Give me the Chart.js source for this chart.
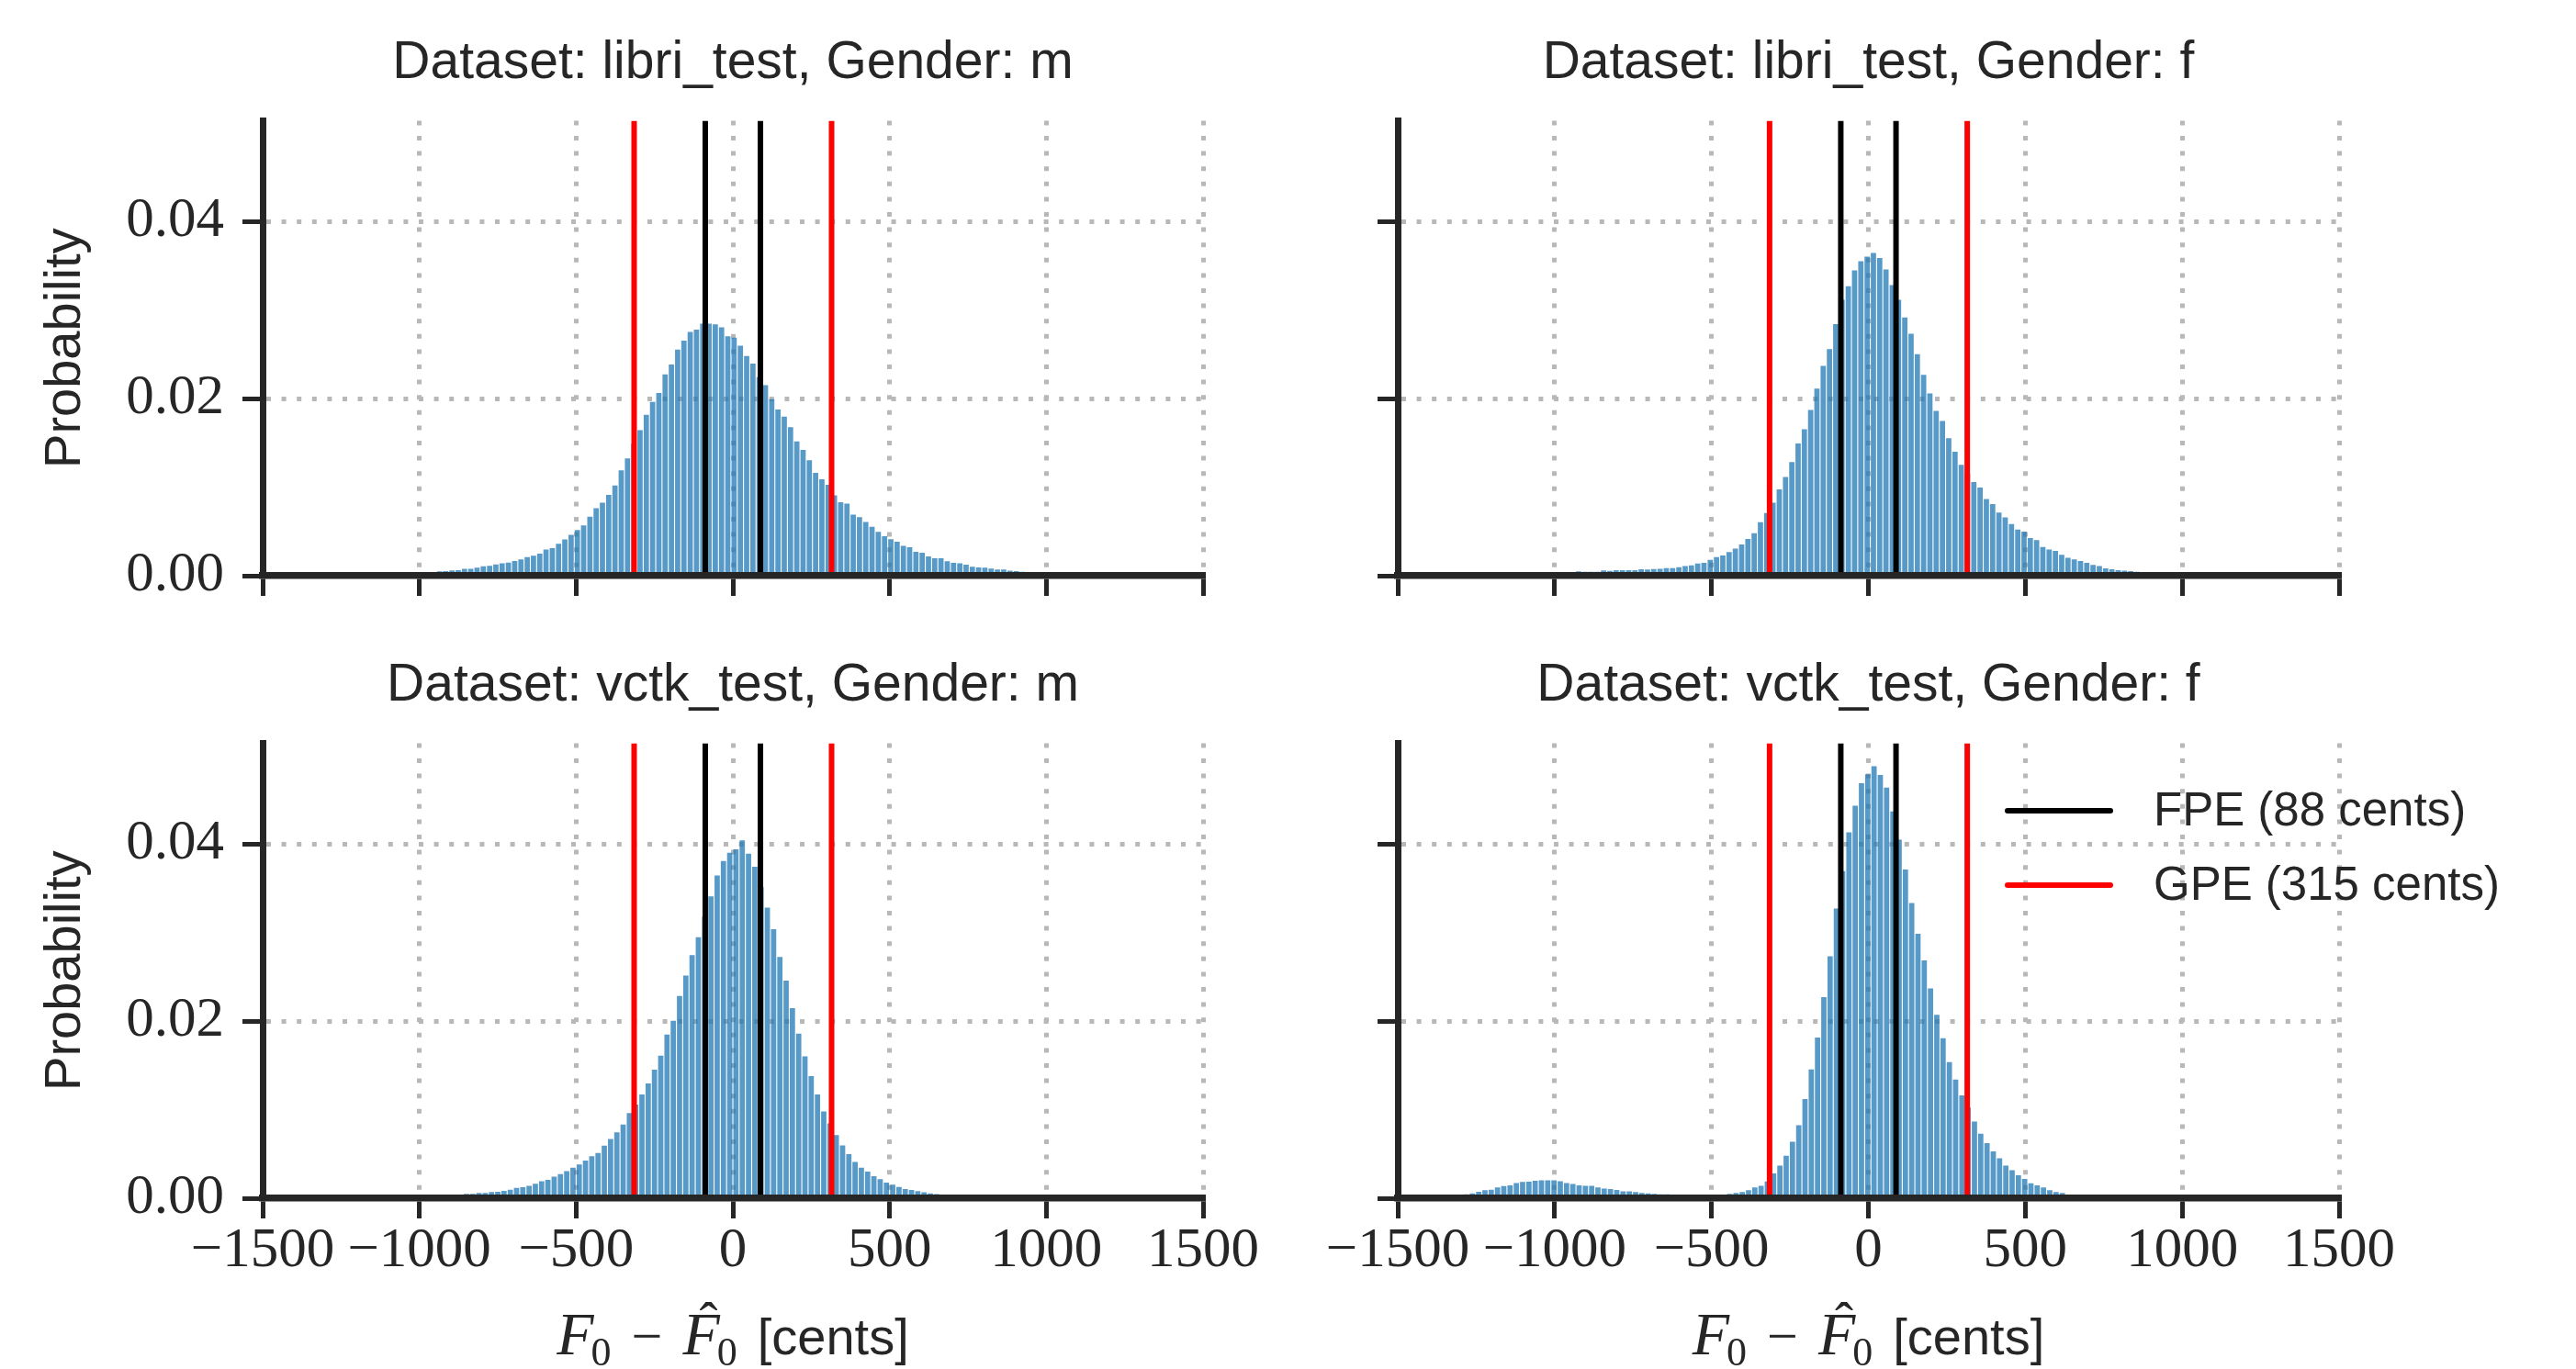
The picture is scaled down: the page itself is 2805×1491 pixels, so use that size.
<!DOCTYPE html>
<html>
<head>
<meta charset="utf-8">
<title>F0 error histograms</title>
<script src="https://cdn.jsdelivr.net/npm/chart.js@4.4.1/dist/chart.umd.min.js"></script>
<style>
    html, body { margin: 0; padding: 0; background: #ffffff; }
    body { width: 2805px; height: 1491px; position: relative; overflow: hidden; }
    canvas { position: absolute; }
</style>
</head>
<body>
<script>
// histogram bins are 20 cents wide
var BIN_WIDTH = 20;
var X_MIN = -1500, X_MAX = 1500;
var Y_MAX = 0.0514;
var xTickValues = [-1500, -1000, -500, 0, 500, 1000, 1500];
var yTickValues = [0, 0.02, 0.04];

var fpeCents = 88;
var gpeCents = 315;
var fpeLabel = 'FPE (88 cents)';
var gpeLabel = 'GPE (315 cents)';

var panelTitles = [
    'Dataset: libri_test, Gender: m',
    'Dataset: libri_test, Gender: f',
    'Dataset: vctk_test, Gender: m',
    'Dataset: vctk_test, Gender: f'
];

// centre of the first bin of each panel
var firstBinCenters = [-996, -1064, -890, -1302];

var libriM = [
    0.0001, 0.0002, 0.00037, 0.00048, 0.00052, 0.00059, 0.00063, 0.00078, 0.00078, 0.00092,
    0.00107, 0.00111, 0.00126, 0.0014, 0.00148, 0.00166, 0.00185, 0.00211, 0.00226, 0.00248,
    0.00296, 0.00312, 0.00361, 0.00409, 0.00461, 0.00517, 0.00569, 0.00666, 0.00763, 0.00825,
    0.00912, 0.0102, 0.0119, 0.01324, 0.0149, 0.01643, 0.01817, 0.01962, 0.02063, 0.02274,
    0.02385, 0.02555, 0.02656, 0.02753, 0.0278, 0.02846, 0.02846, 0.0284, 0.02805, 0.02704,
    0.0269, 0.02597, 0.02482, 0.02396, 0.02243, 0.02153, 0.01993, 0.01876, 0.01796, 0.01678,
    0.01518, 0.01421, 0.01304, 0.01161, 0.01089, 0.01026, 0.00908, 0.00829, 0.00815, 0.0069,
    0.00662, 0.00607, 0.00551, 0.00496, 0.00447, 0.00413, 0.00385, 0.00336, 0.00322, 0.0027,
    0.0026, 0.00219, 0.00198, 0.00198, 0.00163, 0.00146, 0.00139, 0.00125, 0.00101, 0.00094,
    0.0009, 0.0008, 0.00069, 0.00069, 0.00056, 0.00052, 0.00045, 0.00042, 0.00042, 0.0003
];

var libriF = [
    0.0001, 0.0001, 0.0002, 0.0002, 0.0003, 0.0004, 0.0004, 0.00048, 0.00045, 0.00045,
    0.00045, 0.00059, 0.00055, 0.00062, 0.00062, 0.00062, 0.00062, 0.00072, 0.00069, 0.00076,
    0.00079, 0.00086, 0.00086, 0.00097, 0.0011, 0.00117, 0.00138, 0.00145, 0.00179, 0.0021,
    0.00228, 0.00266, 0.00307, 0.00352, 0.00414, 0.00479, 0.00603, 0.00707, 0.00824, 0.00976,
    0.01114, 0.01283, 0.01493, 0.01655, 0.01872, 0.02114, 0.02369, 0.02558, 0.02841, 0.03117,
    0.03269, 0.03448, 0.03551, 0.03603, 0.03645, 0.03589, 0.03458, 0.03282, 0.03117, 0.02917,
    0.02734, 0.02503, 0.02269, 0.02058, 0.01862, 0.01748, 0.01552, 0.014, 0.01252, 0.01155,
    0.01059, 0.00996, 0.00865, 0.0081, 0.00714, 0.00659, 0.00583, 0.00521, 0.00497, 0.00424,
    0.00403, 0.00323, 0.00295, 0.00281, 0.00236, 0.00201, 0.00184, 0.00167, 0.00146, 0.00121,
    0.00108, 0.00083, 0.00073, 0.00062, 0.00056, 0.00052, 0.00045, 0.0002
];

var vctkM = [
    0.0002, 0.0003, 0.00048, 0.00048, 0.00059, 0.00059, 0.00069, 0.00072, 0.00083, 0.00097,
    0.00117, 0.00124, 0.00141, 0.00164, 0.00192, 0.00208, 0.00243, 0.00272, 0.00307, 0.00346,
    0.0038, 0.00426, 0.00475, 0.00512, 0.00593, 0.00669, 0.00743, 0.00833, 0.00962, 0.01059,
    0.01172, 0.01296, 0.01452, 0.0161, 0.01848, 0.02003, 0.02283, 0.02514, 0.02745, 0.02948,
    0.03179, 0.0341, 0.03645, 0.0381, 0.03903, 0.03941, 0.04041, 0.03893, 0.03745, 0.03514,
    0.03283, 0.03038, 0.02724, 0.02458, 0.02148, 0.01858, 0.01603, 0.01379, 0.01172, 0.00979,
    0.00845, 0.00714, 0.00597, 0.00497, 0.0041, 0.00346, 0.003, 0.0025, 0.00214, 0.00176,
    0.00152, 0.00126, 0.00105, 0.00093, 0.0008, 0.00068, 0.00055, 0.00046, 0.0004, 0.0003,
    0.0002, 0.0001
];

var vctkF = [
    0.0003, 0.00045, 0.00055, 0.00072, 0.0009, 0.00097, 0.00121, 0.00138, 0.00145, 0.00172,
    0.00183, 0.00186, 0.00197, 0.00203, 0.00203, 0.00203, 0.00193, 0.00172, 0.00162, 0.00145,
    0.00141, 0.00141, 0.00121, 0.0011, 0.00103, 0.00093, 0.00079, 0.00079, 0.00069, 0.00059,
    0.00055, 0.00048, 0.00045, 0.00045, 0.00041, 0.0004, 0.0003, 0.0003, 0.0002, 0.0002,
    0.0002, 0.0003, 0.00041, 0.00048, 0.00059, 0.00069, 0.0009, 0.00121, 0.00141, 0.0019,
    0.00279, 0.00369, 0.00479, 0.00638, 0.00824, 0.01121, 0.01455, 0.01814, 0.02272, 0.02734,
    0.03272, 0.03696, 0.04134, 0.04434, 0.04689, 0.04789, 0.0488, 0.04782, 0.04638, 0.04369,
    0.04051, 0.03714, 0.03334, 0.02986, 0.02686, 0.02369, 0.02072, 0.01807, 0.01538, 0.01341,
    0.01162, 0.01024, 0.00865, 0.00728, 0.00621, 0.00528, 0.00452, 0.00369, 0.00317, 0.00259,
    0.00217, 0.00169, 0.00145, 0.00121, 0.0009, 0.00069, 0.00059, 0.0004, 0.0002
];

var panelValues = [libriM, libriF, vctkM, vctkF];

var INK = '#262626';
var GRID = '#b8b8b8';
var SANS = '"Liberation Sans", Arial, Helvetica, sans-serif';
var SERIF = '"Liberation Serif", "Times New Roman", serif';

Chart.defaults.font.family = SANS;
Chart.defaults.color = INK;

// canvas boxes for the 2x2 grid
var cols = [
    { left: 0, width: 1400, axisWidth: 286, padRight: 90 },
    { left: 1400, width: 1405, axisWidth: 122, padRight: 258 }
];
var rows = [
    { top: 0, height: 680, titleTop: 35, titleBottom: 28, axisHeight: 53 },
    { top: 680, height: 811, titleTop: 33, titleBottom: 28, axisHeight: 186 }
];

function toBins(start, values) {
    return values.map(function (v, i) {
        return { x: start + i * BIN_WIDTH, y: v };
    });
}

function thresholdLines(cents) {
    return [
        { x: -cents, y: 0 }, { x: -cents, y: Y_MAX },
        { x: 0, y: null },
        { x: cents, y: 0 }, { x: cents, y: Y_MAX }
    ];
}

function formatTick(value) {
    return value < 0 ? '\u2212' + Math.abs(value) : String(value);
}

// legend drawn inside the last panel, partly outside the axes like the original
var cornerLegend = {
    id: 'cornerLegend',
    afterDraw: function (chart) {
        var opts = chart.options.plugins.cornerLegend;
        if (!opts || !opts.display) return;
        var ctx = chart.ctx;
        var lines = chart.data.datasets.filter(function (d) { return d.type === 'line'; });
        ctx.save();
        lines.forEach(function (ds, i) {
            var y = opts.y + i * opts.rowGap;
            ctx.strokeStyle = ds.borderColor;
            ctx.lineWidth = ds.borderWidth;
            ctx.lineCap = 'round';
            ctx.beginPath();
            ctx.moveTo(opts.x, y);
            ctx.lineTo(opts.x + opts.lineLength, y);
            ctx.stroke();
            ctx.fillStyle = INK;
            ctx.font = opts.fontSize + 'px ' + SANS;
            ctx.textBaseline = 'middle';
            ctx.textAlign = 'left';
            ctx.fillText(ds.label, opts.x + opts.textOffset, y + 2);
        });
        ctx.restore();
    }
};

// x label mixes math italics and plain text, so it is drawn piece by piece
var centsLabel = {
    id: 'centsLabel',
    afterDraw: function (chart) {
        var opts = chart.options.plugins.centsLabel;
        if (!opts || !opts.display) return;
        var ctx = chart.ctx;
        var parts = [
            { t: 'F', font: 'italic 66px ' + SERIF, dy: 0, gap: -3 },
            { t: '0', font: '44px ' + SERIF, dy: 12, gap: 22 },
            { t: '\u2212', font: '60px ' + SERIF, dy: 0, gap: 22 },
            { t: 'F', font: 'italic 66px ' + SERIF, dy: 0, gap: -3, hat: true },
            { t: '0', font: '44px ' + SERIF, dy: 12, gap: 22 },
            { t: '[cents]', font: '56px ' + SANS, dy: 0, gap: 0 }
        ];
        ctx.save();
        var total = 0;
        parts.forEach(function (p) {
            ctx.font = p.font;
            p.w = ctx.measureText(p.t).width;
            total += p.w + p.gap;
        });
        var x = (chart.chartArea.left + chart.chartArea.right) / 2 - total / 2;
        ctx.fillStyle = INK;
        ctx.textBaseline = 'alphabetic';
        ctx.textAlign = 'left';
        parts.forEach(function (p) {
            ctx.font = p.font;
            ctx.fillText(p.t, x, opts.baseline + p.dy);
            if (p.hat) {
                ctx.font = '60px ' + SERIF;
                ctx.textAlign = 'center';
                ctx.fillText('\u02C6', x + p.w / 2 + 8, opts.baseline - 16);
                ctx.textAlign = 'left';
            }
            x += p.w + p.gap;
        });
        ctx.restore();
    }
};

panelTitles.forEach(function (title, k) {
    var col = cols[k % 2];
    var row = rows[Math.floor(k / 2)];
    var isLeft = k % 2 === 0;
    var isBottom = k >= 2;

    var canvas = document.createElement('canvas');
    canvas.width = col.width;
    canvas.height = row.height;
    canvas.style.left = col.left + 'px';
    canvas.style.top = row.top + 'px';
    canvas.style.width = col.width + 'px';
    canvas.style.height = row.height + 'px';
    document.body.appendChild(canvas);

    new Chart(canvas.getContext('2d'), {
        type: 'bar',
        data: {
            datasets: [{
                type: 'line',
                label: fpeLabel,
                data: thresholdLines(fpeCents),
                borderColor: '#000000',
                borderWidth: 6,
                borderCapStyle: 'butt',
                pointRadius: 0,
                fill: false,
                spanGaps: false,
                order: 0
            }, {
                type: 'line',
                label: gpeLabel,
                data: thresholdLines(gpeCents),
                borderColor: '#ff0000',
                borderWidth: 6,
                borderCapStyle: 'butt',
                pointRadius: 0,
                fill: false,
                spanGaps: false,
                order: 1
            }, {
                type: 'bar',
                label: 'histogram',
                data: toBins(firstBinCenters[k], panelValues[k]),
                backgroundColor: 'rgba(31, 119, 180, 0.75)',
                borderWidth: 0,
                barPercentage: 0.84,
                categoryPercentage: 1,
                order: 2
            }]
        },
        options: {
            responsive: false,
            animation: false,
            devicePixelRatio: 1,
            events: [],
            layout: { padding: { left: 0, top: 0, right: col.padRight, bottom: 0 } },
            plugins: {
                legend: { display: false },
                tooltip: { enabled: false },
                title: {
                    display: true,
                    text: title,
                    fullSize: false,
                    color: INK,
                    font: { family: SANS, size: 57, weight: 'normal' },
                    padding: { top: row.titleTop, bottom: row.titleBottom }
                },
                cornerLegend: {
                    display: k === 3,
                    x: 786, y: 203, rowGap: 81,
                    lineLength: 112, textOffset: 159, fontSize: 51
                },
                centsLabel: { display: isBottom, baseline: 795 }
            },
            scales: {
                x: {
                    type: 'linear',
                    min: X_MIN,
                    max: X_MAX,
                    offset: false,
                    afterBuildTicks: function (scale) {
                        scale.ticks = xTickValues.map(function (v) { return { value: v }; });
                    },
                    afterFit: function (scale) { scale.height = row.axisHeight; },
                    grid: {
                        offset: false,
                        color: GRID,
                        lineWidth: 5,
                        drawTicks: true,
                        tickLength: 22,
                        tickWidth: 5,
                        tickColor: INK,
                        tickBorderDash: []
                    },
                    border: { display: true, color: INK, width: 7.5, dash: [5, 11.6], z: 1 },
                    ticks: {
                        display: isBottom,
                        maxRotation: 0,
                        autoSkip: false,
                        padding: 5,
                        color: INK,
                        font: { family: SERIF, size: 61, lineHeight: 1 },
                        callback: function (v) { return formatTick(v); }
                    }
                },
                y: {
                    type: 'linear',
                    min: 0,
                    max: Y_MAX,
                    afterBuildTicks: function (scale) {
                        scale.ticks = yTickValues.map(function (v) { return { value: v }; });
                    },
                    afterFit: function (scale) { scale.width = col.axisWidth; },
                    grid: {
                        color: GRID,
                        lineWidth: 5,
                        drawTicks: true,
                        tickLength: 22,
                        tickWidth: 5,
                        tickColor: INK,
                        tickBorderDash: []
                    },
                    border: { display: true, color: INK, width: 7, dash: [5, 11.6], z: 1 },
                    title: {
                        display: isLeft,
                        text: 'Probability',
                        color: INK,
                        font: { family: SANS, size: 56 },
                        padding: { top: 38, bottom: 0 }
                    },
                    ticks: {
                        display: isLeft,
                        padding: 20,
                        color: INK,
                        font: { family: SERIF, size: 61, lineHeight: 1 },
                        callback: function (v) { return v.toFixed(2); }
                    }
                }
            }
        },
        plugins: [cornerLegend, centsLabel]
    });
});
</script>
</body>
</html>
